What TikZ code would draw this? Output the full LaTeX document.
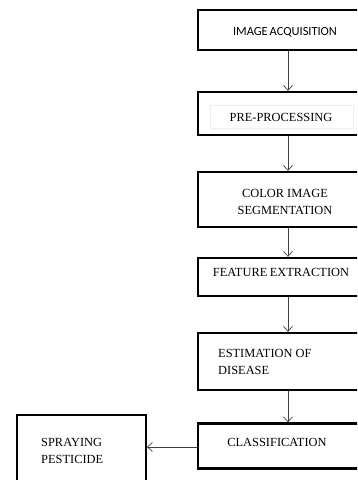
\documentclass[tikz,border=0pt]{standalone}
\usepackage{fontspec}
\setmainfont{Liberation Serif}
\newfontfamily\calib{Carlito}
\usetikzlibrary{arrows.meta}
\begin{document}
\begin{tikzpicture}[x=1pt,y=-1pt,
  boxnode/.style={draw=black,line width=2.3pt,rectangle,inner sep=0pt},
  lbl/.style={inner sep=0pt,font=\fontsize{12.4}{18}\selectfont},
  lbll/.style={lbl,anchor=west,align=left},
  conn/.style={draw=black!75,line width=0.7pt,-{Straight Barb[length=5pt,width=9pt,line width=0.7pt]}}]
\useasboundingbox (0,0) rectangle (357,480);
\clip (0,0) rectangle (357,480);
\fill[white] (0,0) rectangle (357,480);
% boxes
\node[boxnode,minimum width=180pt,minimum height=40pt] (b1) at (288,30) {};
\node[boxnode,minimum width=180pt,minimum height=43pt] (b2) at (288,113.5) {};
\node[boxnode,minimum width=180pt,minimum height=55pt] (b3) at (288,199.5) {};
\node[boxnode,minimum width=180pt,minimum height=38pt] (b4) at (288,277) {};
\node[boxnode,minimum width=180pt,minimum height=57pt] (b5) at (288,361.5) {};
\node[boxnode,minimum width=180pt,minimum height=45pt] (b6) at (288,446) {};
\node[boxnode,line width=1.8pt,minimum width=129pt,minimum height=80pt] (s) at (81.5,455) {};
% inner faint box
\node[draw=brown!15,line width=0.6pt,minimum width=143pt,minimum height=23pt,inner sep=0pt] (ib) at (281.5,116.5) {};
% texts
\node[inner sep=0pt,font=\calib\fontsize{12.4}{14}\selectfont] (t1) at (285,32) {IMAGE\kern2pt ACQUISITION};
\node[lbl] (t2) at (281,117) {PRE-PROCESSING};
\node[lbl,align=center] (t3) at (285,202) {COLOR IMAGE\\[-1pt]SEGMENTATION};
\node[lbl] (t4) at (281,272) {FEATURE\kern2.5pt EXTRACTION};
\node[lbll] (t5) at (218,362) {ESTIMATION OF\\[-1pt]DISEASE};
\node[lbl] (t6) at (277,442) {CLASSIFICATION};
\node[lbll] (t7) at (41,451) {SPRAYING\\[-1pt]PESTICIDE};
% connectors
\draw[conn] (b1.south) -- (b2.north);
\draw[conn] (b2.south) -- (b3.north);
\draw[conn] (b3.south) -- (b4.north);
\draw[conn] (b4.south) -- (b5.north);
\draw[conn] (b5.south) -- (b6.north);
\draw[conn] ([yshift=-1pt]b6.west) -- ([yshift=-1pt]b6.west -| s.east);
\end{tikzpicture}
\end{document}
